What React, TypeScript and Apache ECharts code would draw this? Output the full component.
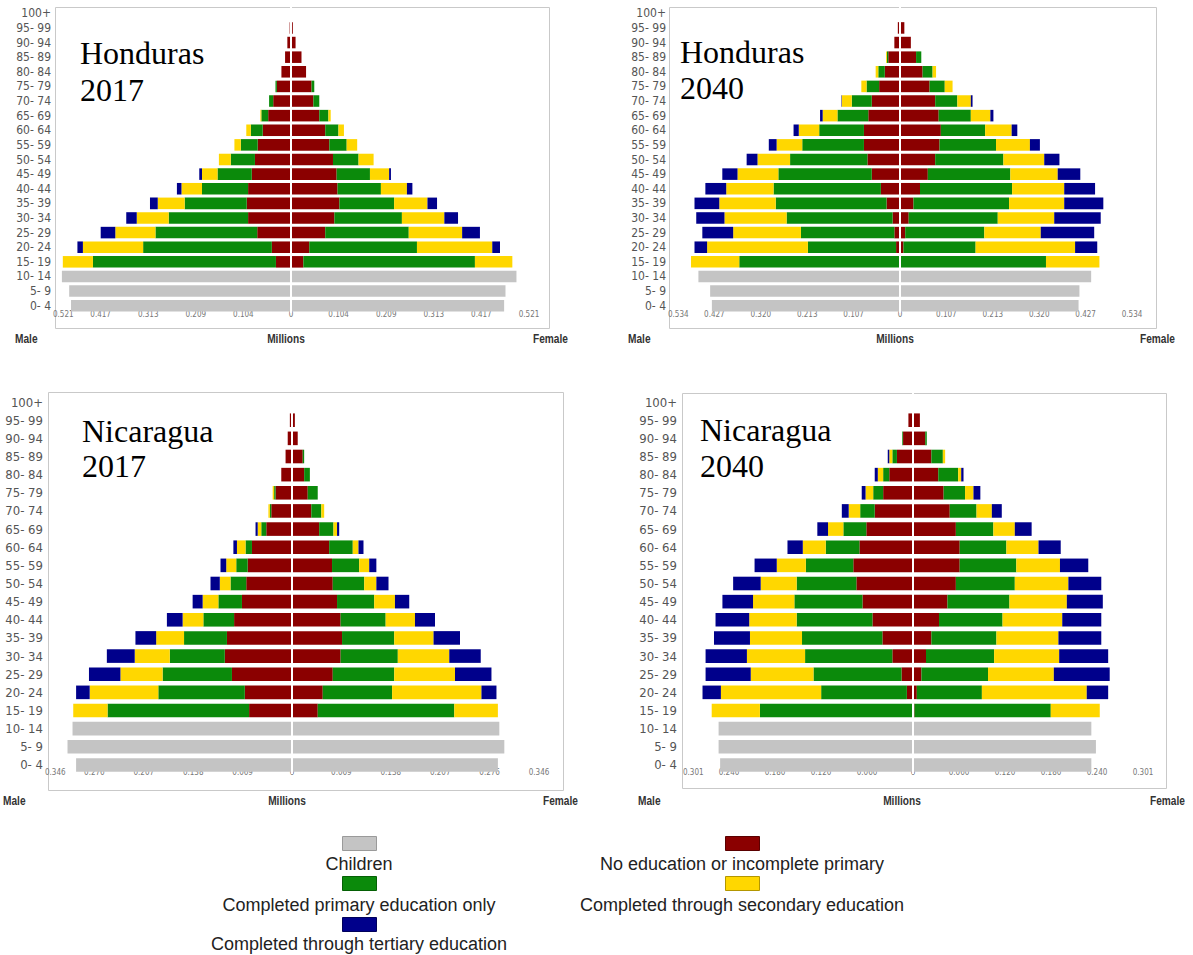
import React, { useEffect, useRef } from "react";
import * as echarts from "echarts";

// ---------- categories ----------
const AGES = [
  "0- 4", "5- 9", "10- 14", "15- 19", "20- 24", "25- 29", "30- 34", "35- 39", "40- 44", "45- 49",
  "50- 54", "55- 59", "60- 64", "65- 69", "70- 74", "75- 79", "80- 84", "85- 89", "90- 94", "95- 99", "100+",
];
const LEVELS = [
  "Children",
  "No education or incomplete primary",
  "Completed primary education only",
  "Completed through secondary education",
  "Completed through tertiary education",
];
const COLORS = ["#c4c4c4", "#8b0000", "#0b8a0b", "#ffd700", "#00008b"];

// ---------- Honduras 2017 (millions, ages 0-4 .. 100+) ----------
const HON17_M_CHILD = [0.482, 0.486, 0.502, 0, 0, 0, 0, 0, 0, 0, 0, 0, 0, 0, 0, 0, 0, 0, 0, 0, 0];
const HON17_M_NONE = [0, 0, 0, 0.033, 0.042, 0.074, 0.094, 0.097, 0.094, 0.086, 0.079, 0.073, 0.062, 0.05, 0.039, 0.031, 0.021, 0.013, 0.008, 0.003, 0];
const HON17_M_PRIM = [0, 0, 0, 0.401, 0.282, 0.223, 0.174, 0.136, 0.101, 0.075, 0.053, 0.037, 0.026, 0.015, 0.009, 0.003, 0, 0, 0, 0, 0];
const HON17_M_SEC = [0, 0, 0, 0.066, 0.132, 0.088, 0.07, 0.059, 0.045, 0.034, 0.026, 0.014, 0.01, 0.002, 0, 0, 0, 0, 0, 0, 0];
const HON17_M_TER = [0, 0, 0, 0, 0.012, 0.032, 0.023, 0.017, 0.01, 0.006, 0, 0, 0, 0, 0, 0, 0, 0, 0, 0, 0];
const HON17_F_CHILD = [0.467, 0.47, 0.494, 0, 0, 0, 0, 0, 0, 0, 0, 0, 0, 0, 0, 0, 0, 0, 0, 0, 0];
const HON17_F_NONE = [0, 0, 0, 0.027, 0.04, 0.075, 0.095, 0.106, 0.102, 0.1, 0.092, 0.084, 0.075, 0.062, 0.049, 0.045, 0.033, 0.023, 0.01, 0.004, 0];
const HON17_F_PRIM = [0, 0, 0, 0.376, 0.236, 0.183, 0.148, 0.12, 0.095, 0.073, 0.056, 0.038, 0.029, 0.02, 0.013, 0.006, 0, 0, 0, 0, 0];
const HON17_F_SEC = [0, 0, 0, 0.082, 0.165, 0.117, 0.093, 0.073, 0.057, 0.042, 0.033, 0.023, 0.012, 0.005, 0, 0, 0, 0, 0, 0, 0];
const HON17_F_TER = [0, 0, 0, 0, 0.017, 0.039, 0.03, 0.021, 0.012, 0.004, 0, 0, 0, 0, 0, 0, 0, 0, 0, 0, 0];
const HON17_TICKS = ["0", "0.104", "0.209", "0.313", "0.417", "0.521"];
const HON17_MAX = 0.5215;

// ---------- Honduras 2040 ----------
const HON40_M_CHILD = [0.433, 0.437, 0.464, 0, 0, 0, 0, 0, 0, 0, 0, 0, 0, 0, 0, 0, 0, 0, 0, 0, 0];
const HON40_M_NONE = [0, 0, 0, 0.002, 0.009, 0.013, 0.017, 0.031, 0.044, 0.065, 0.075, 0.083, 0.083, 0.073, 0.065, 0.048, 0.035, 0.027, 0.013, 0.005, 0];
const HON40_M_PRIM = [0, 0, 0, 0.368, 0.203, 0.215, 0.244, 0.255, 0.247, 0.215, 0.178, 0.142, 0.103, 0.071, 0.046, 0.029, 0.015, 0.003, 0, 0, 0];
const HON40_M_SEC = [0, 0, 0, 0.111, 0.232, 0.156, 0.143, 0.13, 0.109, 0.094, 0.075, 0.059, 0.047, 0.034, 0.023, 0.012, 0.006, 0.002, 0, 0, 0];
const HON40_M_TER = [0, 0, 0, 0, 0.029, 0.071, 0.065, 0.057, 0.048, 0.035, 0.025, 0.018, 0.012, 0.006, 0.001, 0, 0, 0, 0, 0, 0];
const HON40_F_CHILD = [0.411, 0.413, 0.44, 0, 0, 0, 0, 0, 0, 0, 0, 0, 0, 0, 0, 0, 0, 0, 0, 0, 0];
const HON40_F_NONE = [0, 0, 0, 0.002, 0.008, 0.012, 0.02, 0.031, 0.046, 0.064, 0.081, 0.091, 0.094, 0.089, 0.081, 0.068, 0.052, 0.037, 0.025, 0.01, 0];
const HON40_F_PRIM = [0, 0, 0, 0.334, 0.166, 0.182, 0.205, 0.22, 0.212, 0.19, 0.157, 0.13, 0.102, 0.074, 0.051, 0.035, 0.023, 0.012, 0, 0, 0];
const HON40_F_SEC = [0, 0, 0, 0.123, 0.229, 0.13, 0.13, 0.127, 0.12, 0.109, 0.094, 0.078, 0.061, 0.045, 0.031, 0.018, 0.008, 0, 0, 0, 0];
const HON40_F_TER = [0, 0, 0, 0, 0.051, 0.123, 0.107, 0.09, 0.071, 0.052, 0.035, 0.023, 0.013, 0.007, 0.004, 0, 0, 0, 0, 0, 0];
const HON40_TICKS = ["0", "0.107", "0.213", "0.320", "0.427", "0.534"];
const HON40_MAX = 0.534;

// ---------- Nicaragua 2017 ----------
const NIC17_M_CHILD = [0.302, 0.314, 0.307, 0, 0, 0, 0, 0, 0, 0, 0, 0, 0, 0, 0, 0, 0, 0, 0, 0, 0];
const NIC17_M_NONE = [0, 0, 0, 0.06, 0.066, 0.084, 0.094, 0.091, 0.081, 0.07, 0.064, 0.062, 0.056, 0.036, 0.029, 0.023, 0.015, 0.009, 0.006, 0.003, 0];
const NIC17_M_PRIM = [0, 0, 0, 0.198, 0.121, 0.097, 0.077, 0.06, 0.043, 0.033, 0.022, 0.016, 0.009, 0.007, 0.002, 0.002, 0, 0, 0, 0, 0];
const NIC17_M_SEC = [0, 0, 0, 0.048, 0.096, 0.059, 0.049, 0.039, 0.029, 0.022, 0.015, 0.014, 0.012, 0.005, 0.002, 0.002, 0, 0, 0, 0, 0];
const NIC17_M_TER = [0, 0, 0, 0, 0.019, 0.044, 0.039, 0.029, 0.022, 0.014, 0.013, 0.008, 0.005, 0.003, 0, 0, 0, 0, 0, 0, 0];
const NIC17_F_CHILD = [0.288, 0.297, 0.29, 0, 0, 0, 0, 0, 0, 0, 0, 0, 0, 0, 0, 0, 0, 0, 0, 0, 0];
const NIC17_F_NONE = [0, 0, 0, 0.036, 0.043, 0.057, 0.068, 0.07, 0.068, 0.063, 0.057, 0.056, 0.052, 0.038, 0.027, 0.022, 0.017, 0.015, 0.008, 0.004, 0];
const NIC17_F_PRIM = [0, 0, 0, 0.191, 0.097, 0.086, 0.08, 0.073, 0.063, 0.052, 0.044, 0.038, 0.033, 0.02, 0.014, 0.014, 0.008, 0.002, 0, 0, 0];
const NIC17_F_SEC = [0, 0, 0, 0.061, 0.125, 0.085, 0.072, 0.055, 0.041, 0.029, 0.017, 0.014, 0.008, 0.005, 0.004, 0, 0, 0, 0, 0, 0];
const NIC17_F_TER = [0, 0, 0, 0, 0.021, 0.051, 0.044, 0.037, 0.028, 0.02, 0.017, 0.01, 0.007, 0.003, 0, 0, 0, 0, 0, 0, 0];
const NIC17_TICKS = ["0", "0.069", "0.138", "0.207", "0.276", "0.346"];
const NIC17_MAX = 0.3455;

// ---------- Nicaragua 2040 ----------
const NIC40_M_CHILD = [0.252, 0.254, 0.254, 0, 0, 0, 0, 0, 0, 0, 0, 0, 0, 0, 0, 0, 0, 0, 0, 0, 0];
const NIC40_M_NONE = [0, 0, 0, 0.001, 0.008, 0.015, 0.027, 0.04, 0.053, 0.066, 0.074, 0.078, 0.07, 0.061, 0.05, 0.039, 0.031, 0.021, 0.013, 0.006, 0.001];
const NIC40_M_PRIM = [0, 0, 0, 0.199, 0.112, 0.115, 0.114, 0.105, 0.099, 0.089, 0.078, 0.062, 0.044, 0.03, 0.019, 0.013, 0.008, 0.006, 0.001, 0, 0];
const NIC40_M_SEC = [0, 0, 0, 0.063, 0.131, 0.082, 0.076, 0.068, 0.062, 0.054, 0.047, 0.038, 0.03, 0.02, 0.015, 0.01, 0.007, 0.004, 0, 0, 0];
const NIC40_M_TER = [0, 0, 0, 0, 0.024, 0.059, 0.054, 0.047, 0.044, 0.04, 0.036, 0.029, 0.02, 0.014, 0.009, 0.005, 0.004, 0.002, 0, 0, 0];
const NIC40_F_CHILD = [0.233, 0.239, 0.233, 0, 0, 0, 0, 0, 0, 0, 0, 0, 0, 0, 0, 0, 0, 0, 0, 0, 0];
const NIC40_F_NONE = [0, 0, 0, 0.002, 0.005, 0.011, 0.017, 0.024, 0.034, 0.045, 0.056, 0.061, 0.061, 0.056, 0.048, 0.04, 0.033, 0.024, 0.016, 0.009, 0.001];
const NIC40_F_PRIM = [0, 0, 0, 0.178, 0.085, 0.087, 0.089, 0.085, 0.083, 0.081, 0.077, 0.074, 0.061, 0.049, 0.035, 0.028, 0.026, 0.015, 0.002, 0, 0];
const NIC40_F_SEC = [0, 0, 0, 0.064, 0.137, 0.086, 0.085, 0.081, 0.078, 0.075, 0.07, 0.057, 0.042, 0.028, 0.02, 0.011, 0.004, 0.003, 0, 0, 0];
const NIC40_F_TER = [0, 0, 0, 0, 0.028, 0.073, 0.064, 0.056, 0.051, 0.047, 0.043, 0.037, 0.029, 0.022, 0.013, 0.009, 0.003, 0, 0, 0, 0];
const NIC40_TICKS = ["0", "0.060", "0.120", "0.180", "0.240", "0.301"];
const NIC40_MAX = 0.3005;

// ---------- panels (data references + layout) ----------
const PANELS = [
  {
    country: "Honduras", year: "2017", max: HON17_MAX, ticks: HON17_TICKS,
    male: [HON17_M_CHILD, HON17_M_NONE, HON17_M_PRIM, HON17_M_SEC, HON17_M_TER],
    female: [HON17_F_CHILD, HON17_F_NONE, HON17_F_PRIM, HON17_F_SEC, HON17_F_TER],
    grid: { left: 53, top: 6, width: 476, height: 307 },
    box: [55, 7, 494, 321], gap: "21%", yFont: 12, yMargin: 2, xMargin: -3,
    title: { x: 80, y1: 53, y2: 90 },
    nameY: 338, male_x: 15, mill_x: 286, fem_x: 533,
  },
  {
    country: "Honduras", year: "2040", max: HON40_MAX, ticks: HON40_TICKS,
    male: [HON40_M_CHILD, HON40_M_NONE, HON40_M_PRIM, HON40_M_SEC, HON40_M_TER],
    female: [HON40_F_CHILD, HON40_F_NONE, HON40_F_PRIM, HON40_F_SEC, HON40_F_TER],
    grid: { left: 668, top: 6, width: 464, height: 307 },
    box: [669, 7, 487, 321], gap: "21%", yFont: 12, yMargin: 2, xMargin: -3,
    title: { x: 680, y1: 52, y2: 88 },
    nameY: 338, male_x: 628, mill_x: 895, fem_x: 1140,
  },
  {
    country: "Nicaragua", year: "2017", max: NIC17_MAX, ticks: NIC17_TICKS,
    male: [NIC17_M_CHILD, NIC17_M_NONE, NIC17_M_PRIM, NIC17_M_SEC, NIC17_M_TER],
    female: [NIC17_F_CHILD, NIC17_F_NONE, NIC17_F_PRIM, NIC17_F_SEC, NIC17_F_TER],
    grid: { left: 45, top: 393, width: 494, height: 381 },
    box: [48, 392, 515, 398], gap: "25%", yFont: 13, yMargin: 2, xMargin: -6,
    title: { x: 82, y1: 431, y2: 466 },
    nameY: 800, male_x: 3, mill_x: 287, fem_x: 543,
  },
  {
    country: "Nicaragua", year: "2040", max: NIC40_MAX, ticks: NIC40_TICKS,
    male: [NIC40_M_CHILD, NIC40_M_NONE, NIC40_M_PRIM, NIC40_M_SEC, NIC40_M_TER],
    female: [NIC40_F_CHILD, NIC40_F_NONE, NIC40_F_PRIM, NIC40_F_SEC, NIC40_F_TER],
    grid: { left: 683, top: 393, width: 460, height: 381 },
    box: [682, 393, 484, 395], gap: "25%", yFont: 13, yMargin: 6, xMargin: -6,
    title: { x: 700, y1: 430, y2: 466 },
    nameY: 800, male_x: 638, mill_x: 902, fem_x: 1150,
  },
];

const NARROW = "'Liberation Sans Narrow', 'DejaVu Sans Condensed', 'Liberation Sans', Arial, sans-serif";
const SANS = "'Liberation Sans', Arial, sans-serif";
const SERIF = "'Liberation Serif', 'Times New Roman', serif";

function buildOption() {
  const grid: any[] = [];
  const xAxis: any[] = [];
  const yAxis: any[] = [];
  const series: any[] = [];
  const elements: any[] = [];

  PANELS.forEach((p, i) => {
    grid.push({ ...p.grid, containLabel: false });
    const step = p.max / 5;
    xAxis.push({
      type: "value",
      gridIndex: i,
      min: -p.max,
      max: p.max,
      interval: step,
      splitLine: { show: false },
      axisLine: { show: false },
      axisTick: { show: false },
      axisLabel: {
        show: true,
        fontSize: 8,
        fontFamily: NARROW,
        color: "#777",
        margin: p.xMargin,
        showMinLabel: true,
        showMaxLabel: true,
        alignMinLabel: "left",
        formatter: (v: number) => p.ticks[Math.round(Math.abs(v) / step)] ?? "",
      },
    });
    yAxis.push({
      type: "category",
      gridIndex: i,
      data: AGES,
      axisLine: { show: false },
      axisTick: { show: false },
      axisLabel: {
        interval: 0,
        fontSize: p.yFont,
        fontFamily: NARROW,
        color: "#555",
        margin: p.yMargin,
      },
    });

    LEVELS.forEach((lvl, k) => {
      series.push({
        type: "bar",
        name: lvl + " (male)",
        xAxisIndex: i,
        yAxisIndex: i,
        stack: "pyr" + i,
        barCategoryGap: p.gap,
        silent: true,
        itemStyle: { color: COLORS[k] },
        data: p.male[k].map((v) => -v),
      });
      const fem: any = {
        type: "bar",
        name: lvl + " (female)",
        xAxisIndex: i,
        yAxisIndex: i,
        stack: "pyr" + i,
        barCategoryGap: p.gap,
        silent: true,
        itemStyle: { color: COLORS[k] },
        data: p.female[k],
      };
      if (k === LEVELS.length - 1) {
        fem.z = 3;
        fem.markLine = {
          silent: true,
          symbol: ["none", "none"],
          label: { show: false },
          lineStyle: { color: "#ffffff", width: 2, type: "solid" },
          data: [{ xAxis: 0 }],
        };
      }
      series.push(fem);
    });

    const [bx, by, bw, bh] = p.box;
    elements.push({
      type: "rect",
      z: -1,
      silent: true,
      shape: { x: bx + 0.5, y: by + 0.5, width: bw, height: bh },
      style: { fill: "none", stroke: "#c9c9c9", lineWidth: 1 },
    });
    const txt = (text: string, x: number, y: number, font: any, align = "left", sx = 1) => ({
      type: "text",
      silent: true,
      z: 10,
      x, y,
      scaleX: sx,
      style: {
        text, x: 0, y: 0,
        ...font,
        textAlign: align, align,
        textVerticalAlign: "middle", verticalAlign: "middle",
      },
    });
    elements.push(txt(p.country, p.title.x, p.title.y1, { fontFamily: SERIF, fontSize: 32, fill: "#000" }));
    elements.push(txt(p.year, p.title.x, p.title.y2, { fontFamily: SERIF, fontSize: 32, fill: "#000" }));
    const nameFont = { fontFamily: SANS, fontSize: 13, fontWeight: "bold", fill: "#333" };
    elements.push(txt("Male", p.male_x, p.nameY, nameFont, "left", 0.78));
    elements.push(txt("Millions", p.mill_x, p.nameY, nameFont, "center", 0.78));
    elements.push(txt("Female", p.fem_x, p.nameY, nameFont, "left", 0.78));
  });

  // legend (two centred columns)
  const legendSlots = [
    { k: 0, cx: 359, sy: 836, ty: 864 },
    { k: 2, cx: 359, sy: 876, ty: 905 },
    { k: 4, cx: 359, sy: 917, ty: 944 },
    { k: 1, cx: 742, sy: 836, ty: 864 },
    { k: 3, cx: 742, sy: 876, ty: 905 },
  ];
  const borders = ["#9a9a9a", "#5a0000", "#056005", "#b39600", "#00005a"];
  legendSlots.forEach((s) => {
    elements.push({
      type: "rect",
      silent: true,
      shape: { x: s.cx - 17 + 0.5, y: s.sy + 0.5, width: 34, height: 14 },
      style: { fill: COLORS[s.k], stroke: borders[s.k], lineWidth: 1 },
    });
    elements.push({
      type: "text",
      silent: true,
      style: {
        text: LEVELS[s.k],
        x: s.cx,
        y: s.ty,
        fontFamily: SANS,
        fontSize: 18,
        fill: "#222",
        textAlign: "center", align: "center",
        textVerticalAlign: "middle", verticalAlign: "middle",
      },
    });
  });

  return {
    animation: false,
    backgroundColor: "#ffffff",
    grid,
    xAxis,
    yAxis,
    series,
    graphic: { elements },
  };
}

export default function App() {
  const ref = useRef<HTMLDivElement>(null);
  useEffect(() => {
    document.body.style.margin = "0";
    if (!ref.current) return;
    const chart = echarts.init(ref.current, null, { renderer: "svg" });
    chart.setOption(buildOption() as any);
    return () => chart.dispose();
  }, []);
  return <div ref={ref} style={{ width: 1193, height: 955 }} />;
}
